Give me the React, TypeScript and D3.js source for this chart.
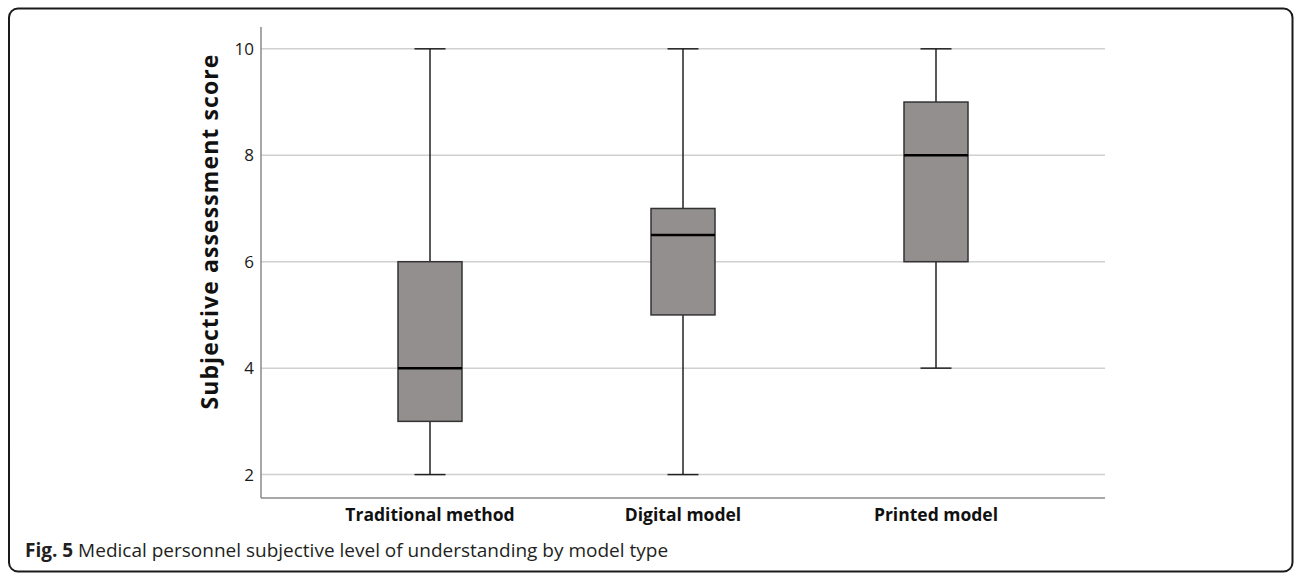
import React from "react";
import * as d3 from "d3";

const categories = ["Traditional method", "Digital model", "Printed model"];
const mins = [2, 2, 4];
const q1s = [3, 5, 6];
const medians = [4, 6.5, 8];
const q3s = [6, 7, 9];
const maxs = [10, 10, 10];
const yTicks = [2, 4, 6, 8, 10];

const W = 1295;
const H = 573;
const FONT = "'Open Sans', 'DejaVu Sans', sans-serif";

export default function App() {
  const x = d3.scalePoint<string>().domain(categories).range([261, 1105]).padding(0.668);
  const y = d3.scaleLinear().domain([1.56, 10.41]).range([498, 27]);
  const boxW = 64;
  const capW = 31;
  const left = 261;
  const right = 1105;

  return (
    <svg width={W} height={H} style={{ position: "absolute", left: 0, top: 0, background: "#fff" }}>
      <rect x={9} y={8.5} width={1283.5} height={563} rx={9} fill="#fff" stroke="#1a1a1a" strokeWidth={2} />
      {yTicks.map((t) => (
        <g key={t}>
          <line x1={left} x2={right} y1={y(t)} y2={y(t)} stroke="#d0d0d0" strokeWidth={1.5} />
          <text x={254} y={y(t)} dy="0.36em" textAnchor="end" fontFamily={FONT} fontSize={17} fill="#1a1a1a">
            {t}
          </text>
        </g>
      ))}
      <line x1={left} x2={left} y1={27} y2={498} stroke="#8a8a8a" strokeWidth={1.5} />
      <line x1={left} x2={right} y1={498} y2={498} stroke="#8a8a8a" strokeWidth={1.5} />
      {categories.map((c, i) => {
        const cx = x(c) as number;
        return (
          <g key={c}>
            <line x1={cx} x2={cx} y1={y(maxs[i])} y2={y(q3s[i])} stroke="#222" strokeWidth={1.5} />
            <line x1={cx} x2={cx} y1={y(q1s[i])} y2={y(mins[i])} stroke="#222" strokeWidth={1.5} />
            <line x1={cx - capW / 2} x2={cx + capW / 2} y1={y(maxs[i])} y2={y(maxs[i])} stroke="#222" strokeWidth={1.5} />
            <line x1={cx - capW / 2} x2={cx + capW / 2} y1={y(mins[i])} y2={y(mins[i])} stroke="#222" strokeWidth={1.5} />
            <rect
              x={cx - boxW / 2}
              y={y(q3s[i])}
              width={boxW}
              height={y(q1s[i]) - y(q3s[i])}
              fill="#948f8f"
              stroke="#333"
              strokeWidth={1.5}
            />
            <line x1={cx - boxW / 2} x2={cx + boxW / 2} y1={y(medians[i])} y2={y(medians[i])} stroke="#000" strokeWidth={2.5} />
            <text x={cx} y={521} textAnchor="middle" fontFamily={FONT} fontWeight="bold" fontSize={17.5} fill="#111">
              {c}
            </text>
          </g>
        );
      })}
      <text
        transform="translate(218, 231.5) rotate(-90)"
        textAnchor="middle"
        fontFamily={FONT}
        fontWeight="bold"
        fontSize={23}
        letterSpacing={1.1}
        fill="#111"
      >
        Subjective assessment score
      </text>
      <text x={25} y={557} fontFamily={FONT} fontSize={19} fill="#231f20">
        <tspan fontWeight="bold">Fig. 5</tspan>
        <tspan> Medical personnel subjective level of understanding by model type</tspan>
      </text>
    </svg>
  );
}
